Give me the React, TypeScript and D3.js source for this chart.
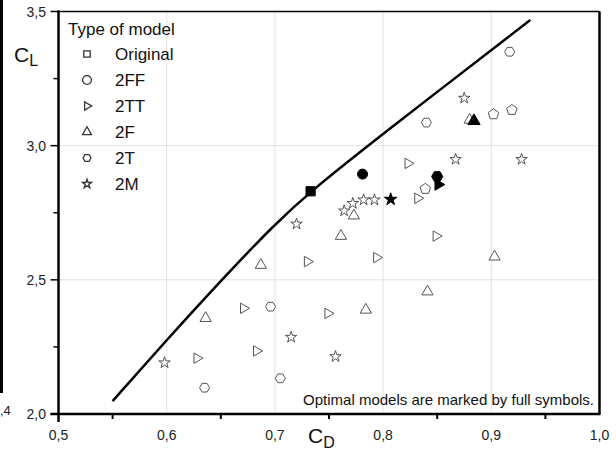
import * as d3 from "d3";

// Envelope curve
const envCD = [0.550, 0.600, 0.650, 0.700, 0.733, 0.800, 0.936];
const envCL = [2.048, 2.276, 2.497, 2.708, 2.830, 3.045, 3.468];

// Series (open symbols)
const origCD: number[] = [];
const origCL: number[] = [];
const ffCD = [0.839, 0.902, 0.919];
const ffCL = [2.839, 3.117, 3.133];
const ttCD = [0.730, 0.794, 0.671, 0.749, 0.628, 0.683, 0.823, 0.832, 0.849];
const ttCL = [2.568, 2.583, 2.394, 2.375, 2.208, 2.235, 2.934, 2.804, 2.663];
const fCD = [0.636, 0.687, 0.761, 0.773, 0.784, 0.903, 0.841, 0.880];
const fCL = [2.357, 2.555, 2.663, 2.739, 2.388, 2.586, 2.456, 3.096];
const tCD = [0.696, 0.635, 0.705, 0.840, 0.917];
const tCL = [2.400, 2.098, 2.133, 3.086, 3.350];
const mCD = [0.720, 0.764, 0.772, 0.782, 0.792, 0.598, 0.715, 0.756, 0.875, 0.867, 0.928];
const mCL = [2.708, 2.757, 2.785, 2.798, 2.798, 2.191, 2.286, 2.214, 3.177, 2.949, 2.949];

// Optimal models (full symbols)
const optType = ["Original", "2FF", "2T", "2TT", "2F", "2M"];
const optCD = [0.733, 0.781, 0.850, 0.851, 0.884, 0.807];
const optCL = [2.830, 2.894, 2.885, 2.855, 3.092, 2.800];

const legendNames = ["Original", "2FF", "2TT", "2F", "2T", "2M"];
const xTicks = [0.5, 0.6, 0.7, 0.8, 0.9, 1.0];
const xTickLabels = ["0,5", "0,6", "0,7", "0,8", "0,9", "1,0"];
const xMinor = [0.55, 0.65, 0.75, 0.85, 0.95];
const yTicks = [2.0, 2.5, 3.0, 3.5];
const yTickLabels = ["2,0", "2,5", "3,0", "3,5"];
const yMinor = [2.25, 2.75, 3.25];

const W = 616;
const H = 450;
const FONT = "'Liberation Sans', Arial, sans-serif";

const polygon = (n: number, rot: number) => ({
  draw(ctx: any, r: number) {
    for (let i = 0; i < n; i++) {
      const a = rot + (i * 2 * Math.PI) / n;
      const px = r * Math.cos(a);
      const py = r * Math.sin(a);
      if (i === 0) ctx.moveTo(px, py);
      else ctx.lineTo(px, py);
    }
    ctx.closePath();
  },
});

const hexagon = polygon(6, 0);
const pentagon = polygon(5, -Math.PI / 2);
const triUp = polygon(3, -Math.PI / 2);
const triRight = polygon(3, 0);
const square = {
  draw(ctx: any, r: number) {
    ctx.rect(-r, -r, 2 * r, 2 * r);
  },
};
const circle = {
  draw(ctx: any, r: number) {
    ctx.moveTo(r, 0);
    ctx.arc(0, 0, r, 0, 2 * Math.PI);
  },
};
const star = { draw: (c: any, r: number) => d3.symbolStar.draw(c, (r * r) / 0.89) };

// plot shape, legend shape, radius
const shapes: Record<string, { plot: any; legend: any; r: number }> = {
  Original: { plot: square, legend: square, r: 4 },
  "2FF": { plot: pentagon, legend: circle, r: 5.5 },
  "2TT": { plot: triRight, legend: triRight, r: 6 },
  "2F": { plot: triUp, legend: triUp, r: 6.5 },
  "2T": { plot: hexagon, legend: hexagon, r: 5 },
  "2M": { plot: star, legend: star, r: 6 },
};

const symPath = (type: any, r: number) => d3.symbol().type(type).size(r)() as string;

export default function App() {
  const x = d3.scaleLinear().domain([0.5, 1.0]).range([58.5, 599.5]);
  const y = d3.scaleLinear().domain([2.0, 3.5]).range([414, 11.5]);

  const env = d3
    .line<number>()
    .x((_, i) => x(envCD[i]))
    .y((_, i) => y(envCL[i]))
    .curve(d3.curveBasis)(envCD) as string;

  const series = [
    { name: "Original", cd: origCD, cl: origCL },
    { name: "2FF", cd: ffCD, cl: ffCL },
    { name: "2TT", cd: ttCD, cl: ttCL },
    { name: "2F", cd: fCD, cl: fCL },
    { name: "2T", cd: tCD, cl: tCL },
    { name: "2M", cd: mCD, cl: mCL },
  ];

  return (
    <svg width={W} height={H} style={{ position: "absolute", left: 0, top: 0, background: "#fff" }} fontFamily={FONT}>
      <rect width={W} height={H} fill="#fff" />
      {/* cropped neighbour figure */}
      <rect x={0} y={0} width={3} height={393} fill="#000" />
      <text x={0} y={415} fontSize={13} fill="#222">,4</text>

      {/* grid */}
      {xTicks.slice(1, -1).map((t) => (
        <line key={"gx" + t} x1={x(t)} x2={x(t)} y1={y(3.5)} y2={y(2.0)} stroke="#e2e2e2" />
      ))}
      {yTicks.slice(1, -1).map((t) => (
        <line key={"gy" + t} x1={x(0.5)} x2={x(1.0)} y1={y(t)} y2={y(t)} stroke="#e2e2e2" />
      ))}

      {/* frame */}
      <line x1={x(0.5)} x2={x(1.0)} y1={y(3.5)} y2={y(3.5)} stroke="#000" strokeWidth={1.5} />
      <line x1={x(1.0)} x2={x(1.0)} y1={y(3.5)} y2={y(2.0)} stroke="#000" strokeWidth={2.5} />
      <line x1={x(0.5) - 8} x2={x(1.0) + 1} y1={y(2.0)} y2={y(2.0)} stroke="#000" strokeWidth={2.5} />
      <line x1={x(0.5)} x2={x(0.5)} y1={y(3.5) - 1} y2={y(2.0) + 8} stroke="#000" strokeWidth={2.5} />

      {/* ticks */}
      {xMinor.map((t) => (
        <line key={"xm" + t} x1={x(t)} x2={x(t)} y1={y(2.0)} y2={y(2.0) + 5} stroke="#000" strokeWidth={2} />
      ))}
      {yTicks.map((t) => (
        <line key={"yt" + t} x1={x(0.5) - 8} x2={x(0.5)} y1={y(t)} y2={y(t)} stroke="#000" strokeWidth={1.5} />
      ))}
      {yMinor.map((t) => (
        <line key={"ym" + t} x1={x(0.5) - 5} x2={x(0.5)} y1={y(t)} y2={y(t)} stroke="#000" strokeWidth={1.5} />
      ))}
      {xTicks.map((t, i) => (
        <text key={"xl" + t} x={x(t)} y={440} textAnchor="middle" fontSize={14} fill="#222">
          {xTickLabels[i]}
        </text>
      ))}
      {yTicks.map((t, i) => (
        <text key={"yl" + t} x={46} y={y(t) + 5} textAnchor="end" fontSize={14} fill="#222">
          {yTickLabels[i]}
        </text>
      ))}

      {/* axis titles */}
      <text x={14} y={62} fontSize={21} fill="#111">
        C<tspan fontSize={16} dy={4}>L</tspan>
      </text>
      <text x={308} y={443} fontSize={21} fill="#111">
        C<tspan fontSize={16} dy={5}>D</tspan>
      </text>

      {/* envelope */}
      <path d={env} fill="none" stroke="#000" strokeWidth={2.5} />

      {/* open symbols */}
      {series.map((s) =>
        s.cd.map((cd, i) => (
          <path
            key={s.name + i}
            d={symPath(shapes[s.name].plot, shapes[s.name].r)}
            transform={`translate(${x(cd)},${y(s.cl[i])})`}
            fill="#fff"
            stroke="#555"
            strokeWidth={1}
          />
        ))
      )}

      {/* optimal (full) symbols */}
      {optType.map((t, i) => (
        <path
          key={"opt" + i}
          d={symPath(t === "2FF" ? circle : shapes[t].plot, t === "2FF" ? 5 : shapes[t].r + 0.6)}
          transform={`translate(${x(optCD[i])},${y(optCL[i])})`}
          fill="#000"
          stroke="#000"
        />
      ))}

      {/* legend */}
      <text x={68} y={35} fontSize={17} fill="#111">Type of model</text>
      {legendNames.map((n, i) => {
        const cy = 54 + i * 26;
        return (
          <g key={"lg" + n}>
            <path
              d={symPath(shapes[n].legend, shapes[n].r * 0.8)}
              transform={`translate(87,${cy})`}
              fill="#fff"
              stroke="#333"
              strokeWidth={1.3}
            />
            <text x={115} y={cy + 6} fontSize={17} fill="#111">{n}</text>
          </g>
        );
      })}

      <text x={594} y={405} textAnchor="end" fontSize={15} fill="#111">
        Optimal models are marked by full symbols.
      </text>
    </svg>
  );
}
